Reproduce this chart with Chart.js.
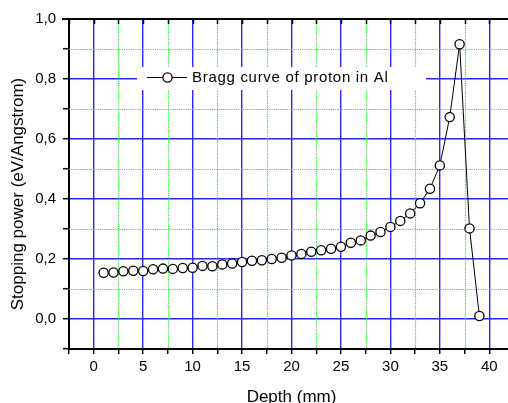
<!DOCTYPE html>
<html>
<head>
<meta charset="utf-8">
<script src="https://cdn.jsdelivr.net/npm/chart.js@4"></script>
<style>
  html, body { margin: 0; padding: 0; background: #fff; overflow: hidden; }
  #wrap { width: 522px; height: 403px; }
</style>
</head>
<body>
<div id="wrap"><canvas id="chart" width="522" height="403"></canvas></div>
<script>
// Depth (mm) of each sample along the proton track
const depth = [1, 2, 3, 4, 5, 6, 7, 8, 9, 10, 11, 12, 13, 14, 15, 16, 17, 18, 19, 20,
               21, 22, 23, 24, 25, 26, 27, 28, 29, 30, 31, 32, 33, 34, 35, 36, 37, 38, 39];
// Stopping power (eV/Angstrom) at each depth
const stopping = [0.154, 0.155, 0.159, 0.161, 0.160, 0.166, 0.168, 0.167, 0.170, 0.171,
                  0.177, 0.176, 0.182, 0.185, 0.190, 0.194, 0.196, 0.200, 0.204, 0.212,
                  0.217, 0.224, 0.229, 0.234, 0.241, 0.254, 0.262, 0.278, 0.290, 0.307,
                  0.327, 0.352, 0.386, 0.434, 0.512, 0.673, 0.916, 0.302, 0.010];

const seriesLabel = 'Bragg curve of proton in Al';
const xTitle = 'Depth (mm)';
const yTitle = 'Stopping power (eV/Angstrom)';
const xMinorTicks = [2.5, 7.5, 12.5, 17.5, 22.5, 27.5, 32.5, 37.5];
const yMinorTicks = [0.1, 0.3, 0.5, 0.7, 0.9];

const FONT = '"Liberation Sans", Arial, sans-serif';
const MAJOR_BLUE = 'rgb(40,40,255)';
const MINOR_GREEN = 'rgb(40,235,40)';

Chart.defaults.font.family = FONT;
Chart.defaults.color = '#000';

// Dotted minor grid, inward ticks on the top edge, top frame line, y title, legend
const framePlugin = {
  id: 'frame',
  beforeDatasetsDraw(chart) {
    const { ctx, chartArea: a, scales: { x, y } } = chart;
    ctx.save();
    ctx.strokeStyle = MINOR_GREEN;
    ctx.lineWidth = 1.2;
    ctx.setLineDash([1.2, 1]);
    xMinorTicks.forEach(v => {
      const px = Math.round(x.getPixelForValue(v)) + 0.5;
      ctx.beginPath(); ctx.moveTo(px, a.top); ctx.lineTo(px, a.bottom); ctx.stroke();
    });
    yMinorTicks.forEach(v => {
      const py = Math.round(y.getPixelForValue(v)) + 0.5;
      ctx.beginPath(); ctx.moveTo(a.left, py); ctx.lineTo(a.right, py); ctx.stroke();
    });
    ctx.restore();
  },
  afterDraw(chart) {
    const { ctx, chartArea: a, scales: { x } } = chart;
    ctx.save();
    ctx.strokeStyle = '#000';
    // inward tick marks along the top edge
    ctx.lineWidth = 1.5;
    x.ticks.forEach(t => {
      const px = Math.round(x.getPixelForValue(t.value)) + 0.5;
      ctx.beginPath(); ctx.moveTo(px, a.top); ctx.lineTo(px, a.top + 5); ctx.stroke();
    });
    // top frame line
    ctx.lineWidth = 2;
    ctx.beginPath(); ctx.moveTo(a.left - 7, a.top); ctx.lineTo(a.right, a.top); ctx.stroke();

    // vertical axis title
    ctx.font = '17px ' + FONT;
    ctx.fillStyle = '#000';
    ctx.textAlign = 'center';
    ctx.textBaseline = 'middle';
    ctx.translate(18, (a.top + a.bottom) / 2 + 10);
    ctx.rotate(-Math.PI / 2);
    ctx.fillText(yTitle, 0, 0);
    ctx.restore();

    // legend box inside the plot
    const ds = chart.data.datasets[0];
    ctx.save();
    ctx.fillStyle = '#fff';
    ctx.fillRect(137, 67, 289, 23);
    ctx.strokeStyle = '#000';
    ctx.lineWidth = 1;
    ctx.beginPath(); ctx.moveTo(147, 77.5); ctx.lineTo(187, 77.5); ctx.stroke();
    ctx.beginPath(); ctx.arc(167.5, 77.5, 4.6, 0, Math.PI * 2);
    ctx.fillStyle = '#fff'; ctx.fill();
    ctx.lineWidth = 1.3; ctx.stroke();
    ctx.fillStyle = '#000';
    ctx.font = '15px ' + FONT;
    ctx.letterSpacing = '0.7px';
    ctx.textAlign = 'left';
    ctx.textBaseline = 'middle';
    ctx.fillText(ds.label, 192, 78);
    ctx.restore();
  }
};

new Chart(document.getElementById('chart'), {
  type: 'line',
  data: {
    labels: depth,
    datasets: [{
      label: seriesLabel,
      data: depth.map((d, i) => ({ x: d, y: stopping[i] })),
      borderColor: '#000',
      borderWidth: 1,
      tension: 0,
      pointRadius: 4.6,
      pointBorderWidth: 1.3,
      pointBackgroundColor: '#fff',
      pointBorderColor: '#000',
      fill: false
    }]
  },
  options: {
    responsive: false,
    devicePixelRatio: 1,
    animation: false,
    layout: { padding: { top: 19, right: 8, left: 0, bottom: 0 } },
    plugins: { legend: { display: false }, tooltip: { enabled: false } },
    scales: {
      x: {
        type: 'linear',
        min: -2.5,
        max: 42.5,
        afterFit(s) { s.height = 54; },
        ticks: {
          stepSize: 2.5,
          autoSkip: false,
          maxRotation: 0,
          padding: 4,
          font: { size: 15 },
          callback: v => (Math.abs(v % 5) < 1e-9 ? String(v) : '')
        },
        grid: {
          color: c => (c.tick && Math.abs(c.tick.value % 5) < 1e-9 && c.tick.value > -2.5 && c.tick.value < 42.5) ? MAJOR_BLUE : 'rgba(0,0,0,0)',
          lineWidth: 1.4,
          tickColor: '#000',
          tickLength: 5,
          tickWidth: 1.5
        },
        border: { color: '#000', width: 2 },
        title: {
          display: true,
          text: xTitle,
          font: { size: 17, lineHeight: 1 },
          padding: { top: 0, bottom: -2.5 }
        }
      },
      y: {
        type: 'linear',
        min: -0.1,
        max: 1.0,
        afterFit(s) { s.width = 69; },
        ticks: {
          stepSize: 0.1,
          autoSkip: false,
          padding: 7,
          font: { size: 15 },
          callback: v => (Math.round(v * 10) % 2 === 0 ? v.toFixed(1).replace('.', ',') : '')
        },
        grid: {
          color: c => (c.tick && Math.round(c.tick.value * 10) % 2 === 0 && c.tick.value > -0.05) ? MAJOR_BLUE : 'rgba(0,0,0,0)',
          lineWidth: 1.4,
          tickColor: '#000',
          tickLength: 6,
          tickWidth: 1.5
        },
        border: { color: '#000', width: 2 }
      }
    }
  },
  plugins: [framePlugin]
});
</script>
</body>
</html>
